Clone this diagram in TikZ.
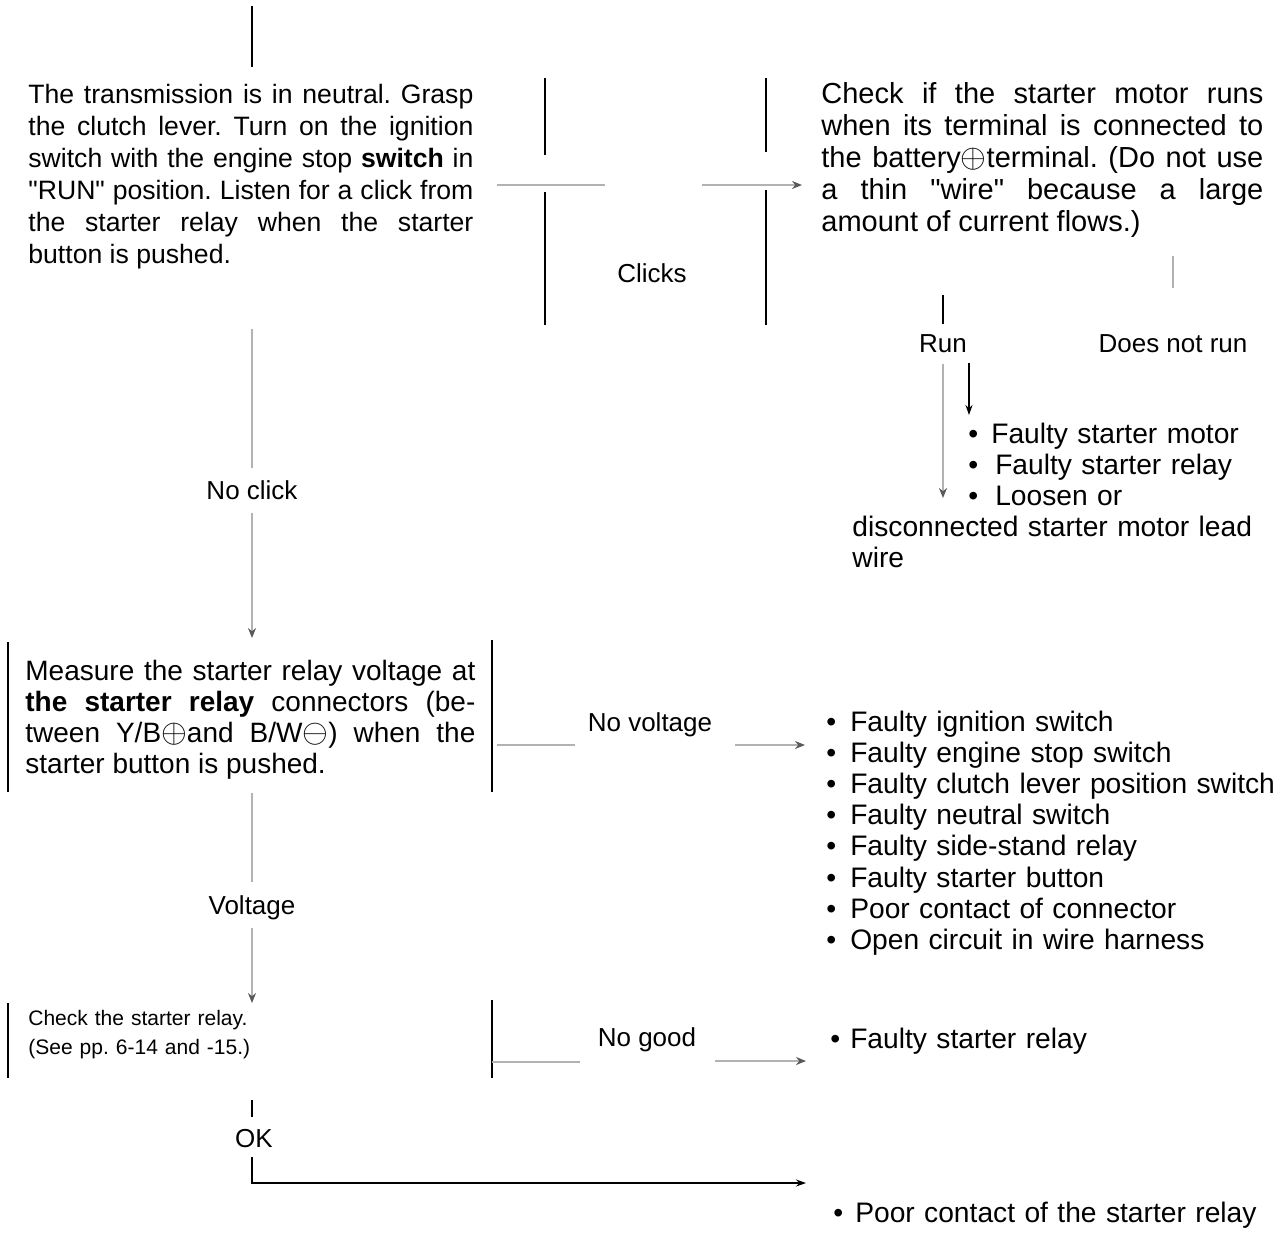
\documentclass[tikz,border=0pt]{standalone}
\usepackage{fontspec}
\setmainfont{Liberation Sans}
\usetikzlibrary{arrows.meta}

\tolerance=9999
\hbadness=10000
\frenchspacing

% bullet with a gap after it
\newcommand{\bul}[1][7pt]{\textbullet\hspace{#1}}
\newcommand{\qq}{\textquotedbl}
% terminal signs
\newcommand{\plusterm}{\raisebox{-0.4pt}{\scalebox{1.15}{$\oplus$}}}
\newcommand{\minusterm}{\raisebox{-0.4pt}{\scalebox{1.15}{$\ominus$}}}

\begin{document}
\begin{tikzpicture}[x=0.5pt,y=-0.5pt,
  wire/.style={black,line width=0.8pt},
  flow/.style={black!30,line width=1.3pt},
  tip/.style={-{Stealth[length=5pt,width=4pt,color=black!65]}},
  blk/.style={-{Stealth[length=5pt,width=3.5pt]}},
  box/.style={anchor=base west,inner sep=0pt,align=justify},
  note/.style={anchor=base,inner sep=0pt,font=\fontsize{13}{16}\selectfont},
  list/.style={anchor=base west,inner sep=0pt,align=left,text width=240pt,
    font=\fontsize{14.1}{15.6}\selectfont}]

  \useasboundingbox (0,0) rectangle (1281,1238);
  \fill[white] (0,0) rectangle (1281,1238);

  % first check
  \draw[wire] (252,6) coordinate (start) -- (252,67);
  \node[box,text width=222.5pt,font=\fontsize{13.3}{16}\selectfont] (listen) at (28,103)
    {The transmission is in neutral. Grasp\linebreak
     the clutch lever. Turn on the ignition\linebreak
     switch with the engine stop \textbf{switch} in\linebreak
     \qq RUN\qq{} position. Listen for a click from\linebreak
     the starter relay when the starter\linebreak
     button is pushed.};

  % clicks
  \draw[wire] (545,78) -- (545,155) (545,192) -- (545,325);
  \draw[wire] (766,78) -- (766,152) (766,190) -- (766,325);
  \node[note] (clicks) at (652,282) {Clicks};
  \node[box,text width=221pt,font=\fontsize{14.5}{16}\selectfont] (motor) at (821,103)
    {Check if the starter motor runs\linebreak
     when its terminal is connected to\linebreak
     the battery\plusterm terminal. (Do not use\linebreak
     a thin \qq wire\qq{} because a large\linebreak
     amount of current flows.)};
  \coordinate (clk-a) at (497,185);
  \coordinate (clk-b) at (605,185);
  \coordinate (clk-c) at (702,185);
  \draw[flow] (clk-a) -- (clk-b);
  \draw[flow,tip,shorten >=9.5pt] (clk-c) -- (motor.west |- clk-c);

  % motor test result
  \node[note] (run) at (943,352) {Run};
  \node[note] (norun) at (1173,352) {Does not run};
  \draw[flow] (1173,256) -- (1173,288);
  \draw[wire,shorten >=5pt] (943,295) -- (run.north);
  \draw[flow,tip,shorten <=5.5pt] (run.south) -- (943,498);
  \draw[wire,blk] (969,363) -- (969,415);
  \node[list] (causeA) at (852,443)
    {\hspace*{58pt}\bul[6.5pt]Faulty starter motor\\
     \hspace*{58pt}\bul[8.5pt]Faulty starter relay\\
     \hspace*{58pt}\bul[8.5pt]Loosen or\\
     disconnected starter motor lead\\
     wire};

  % no click
  \node[note] (noclick) at (252,499) {No click};
  \draw[flow,shorten >=6pt] (252,329) -- (noclick.north);
  \draw[flow,tip,shorten <=6.5pt] (noclick.south) -- (252,638);

  % relay voltage
  \draw[wire] (8,642) -- (8,792);
  \draw[wire] (492,640) -- (492,792);
  \node[box,text width=225pt,font=\fontsize{14}{15.5}\selectfont] (measure) at (25,680)
    {Measure the starter relay voltage at\linebreak
     \textbf{the starter relay} connectors (be-\linebreak
     tween Y/B\plusterm and B/W\minusterm) when the\linebreak
     starter button is pushed.};
  \node[note] (novolt) at (650,731) {No voltage};
  \draw[flow] (497,745) -- (575,745);
  \draw[flow,tip] (735,745) -- (805,745);
  \node[list] (causeB) at (826,731)
    {\bul Faulty ignition switch\\
     \bul Faulty engine stop switch\\
     \bul Faulty clutch lever position switch\\
     \bul Faulty neutral switch\\
     \bul Faulty side-stand relay\\
     \bul Faulty starter button\\
     \bul Poor contact of connector\\
     \bul Open circuit in wire harness};

  % voltage present
  \node[note] (volt) at (252,914) {Voltage};
  \draw[flow,shorten >=6.5pt] (252,793) -- (volt.north);
  \draw[flow,tip,shorten <=4pt] (volt.south) -- (252,1003);

  % relay check
  \draw[wire] (8,1003) -- (8,1078);
  \draw[wire] (492,1000) -- (492,1078);
  \node[box,text width=200pt,align=left,font=\fontsize{10.5}{14.5}\selectfont] (relay) at (28,1025)
    {Check the starter relay.\\
     (See pp. 6-14 and -15.)};
  \node[note] (nogood) at (647,1046) {No good};
  \draw[flow] (492,1062) -- (580,1062);
  \draw[flow,tip] (715,1061) -- (806,1061);
  \node[list] (causeC) at (830,1048) {\bul[5pt]Faulty starter relay};

  % relay ok
  \node[note] (ok) at (254,1147) {OK};
  \draw[wire,shorten >=5.5pt] (252,1100) -- (ok.north -| 252,0);
  \coordinate (bend) at (252,1183);
  \draw[wire,blk] (252,1157) -- (bend) -- (806,1183);
  \node[list] (causeD) at (833,1222) {\bul[6pt]Poor contact of the starter relay};

\end{tikzpicture}
\end{document}
